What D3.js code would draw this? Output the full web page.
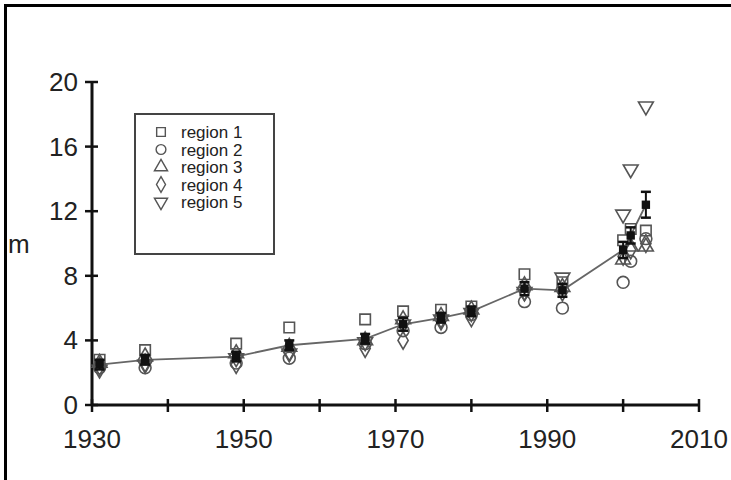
<!DOCTYPE html>
<html><head><meta charset="utf-8">
<script src="https://cdn.jsdelivr.net/npm/d3@7"></script>
<style>body{margin:0;background:#fff}svg{display:block}</style>
</head><body>
<script>
const years = [1931,1937,1949,1956,1966,1971,1976,1980,1987,1992,2000,2001,2003];
const region1 = [2.8,3.4,3.8,4.8,5.3,5.8,5.9,6.1,8.1,7.6,10.2,10.9,10.8];
const region2 = [2.3,2.3,2.6,2.9,3.8,4.6,4.8,5.6,6.4,6.0,7.6,8.9,10.3];
const region3 = [2.6,3.0,3.2,3.6,4.0,5.3,5.5,5.9,7.4,7.3,9.0,9.8,9.8];
const region4 = [2.4,2.6,2.5,3.3,3.5,4.0,5.2,5.4,7.0,7.0,9.2,9.6,10.0];
const region5 = [2.2,2.5,2.9,3.2,3.9,5.0,5.3,5.7,7.0,7.9,11.8,14.6,18.5];
const meanVals = [2.5,2.8,3.0,3.7,4.1,5.0,5.4,5.8,7.2,7.1,9.6,10.5,12.4];
const errVals  = [0.3,0.3,0.3,0.3,0.3,0.4,0.3,0.3,0.4,0.4,0.5,0.5,0.8];
const xTicks = [1930,1940,1950,1960,1970,1980,1990,2000,2010];
const xLabels = [1930,1950,1970,1990,2010];
const yTicks = [0,4,8,12,16,20];
const regionNames = ["region 1","region 2","region 3","region 4","region 5"];

const W=731,H=480;
const svg=d3.select("body").append("svg").attr("width",W).attr("height",H);
const font="Liberation Sans, Arial, sans-serif";

// frame
svg.append("rect").attr("x",5.5).attr("y",5.5).attr("width",W+10).attr("height",H+10)
  .attr("fill","none").attr("stroke","#000").attr("stroke-width",3);

const x=d3.scaleLinear().domain([1930,2010]).range([92,699]);
const y=d3.scaleLinear().domain([0,20]).range([405,82]);

// axes lines
svg.append("line").attr("x1",x(1930)).attr("x2",x(2010)).attr("y1",y(0)).attr("y2",y(0))
  .attr("stroke","#111").attr("stroke-width",3);
svg.append("line").attr("x1",x(1930)).attr("x2",x(1930)).attr("y1",y(0)).attr("y2",y(20))
  .attr("stroke","#111").attr("stroke-width",3);
svg.selectAll(".xt").data(xTicks).enter().append("line")
  .attr("x1",d=>x(d)).attr("x2",d=>x(d)).attr("y1",y(0)-6).attr("y2",y(0)+7)
  .attr("stroke","#111").attr("stroke-width",2.5);
svg.selectAll(".yt").data(yTicks).enter().append("line")
  .attr("x1",x(1930)-7).attr("x2",x(1930)+6).attr("y1",d=>y(d)).attr("y2",d=>y(d))
  .attr("stroke","#111").attr("stroke-width",2.5);
svg.selectAll(".xl").data(xLabels).enter().append("text")
  .attr("x",d=>x(d)).attr("y",y(0)+43).attr("text-anchor","middle")
  .attr("font-family",font).attr("font-size",26).attr("fill","#222").text(d=>d);
svg.selectAll(".yl").data(yTicks).enter().append("text")
  .attr("x",x(1930)-14).attr("y",d=>y(d)+9).attr("text-anchor","end")
  .attr("font-family",font).attr("font-size",26).attr("fill","#222").text(d=>d);
svg.append("text").attr("x",8).attr("y",253).attr("font-family",font).attr("font-size",26)
  .attr("fill","#222").text("m");

// line of means
svg.append("path").datum(years.map((d,i)=>[d,meanVals[i]]))
  .attr("d",d3.line().x(d=>x(d[0])).y(d=>y(d[1])))
  .attr("fill","none").attr("stroke","#666").attr("stroke-width",1.8);

const symbols=[d3.symbolSquare,d3.symbolCircle,d3.symbolTriangle,d3.symbolDiamond,d3.symbolTriangle];
const rot=[0,0,0,0,180];
const series=[region1,region2,region3,region4,region5];
series.forEach((vals,k)=>{
  const gen=d3.symbol().type(symbols[k]).size(k==3?90:k==2||k==4?95:110);
  svg.selectAll(".s"+k).data(vals).enter().append("path")
    .attr("d",gen())
    .attr("transform",(d,i)=>`translate(${x(years[i])},${y(d)}) rotate(${rot[k]})`)
    .attr("fill","none").attr("stroke","#555").attr("stroke-width",1.6);
});

// means with error bars
years.forEach((yr,i)=>{
  const cx=x(yr);
  const g=svg.append("g");
  g.append("line").attr("x1",cx).attr("x2",cx).attr("y1",y(meanVals[i]-errVals[i])).attr("y2",y(meanVals[i]+errVals[i]))
    .attr("stroke","#111").attr("stroke-width",2);
  [meanVals[i]-errVals[i],meanVals[i]+errVals[i]].forEach(v=>{
    g.append("line").attr("x1",cx-5).attr("x2",cx+5).attr("y1",y(v)).attr("y2",y(v))
      .attr("stroke","#111").attr("stroke-width",2.5);
  });
  g.append("path").attr("d",d3.symbol().type(d3.symbolSquare).size(70)())
    .attr("transform",`translate(${cx},${y(meanVals[i])})`).attr("fill","#111");
});

// legend
const lg=svg.append("g");
lg.append("rect").attr("x",135).attr("y",114).attr("width",139).attr("height",140)
  .attr("fill","#fff").attr("stroke","#444").attr("stroke-width",2);
regionNames.forEach((nm,k)=>{
  const yy=132+k*17.5;
  const gen=d3.symbol().type(symbols[k]).size(k==3?70:75);
  lg.append("path").attr("d",gen()).attr("transform",`translate(161,${yy}) rotate(${rot[k]})`)
    .attr("fill","none").attr("stroke","#555").attr("stroke-width",1.4);
  lg.append("text").attr("x",181).attr("y",yy+6).attr("font-family",font).attr("font-size",17)
    .attr("fill","#222").text(nm);
});
</script>
</body></html>
